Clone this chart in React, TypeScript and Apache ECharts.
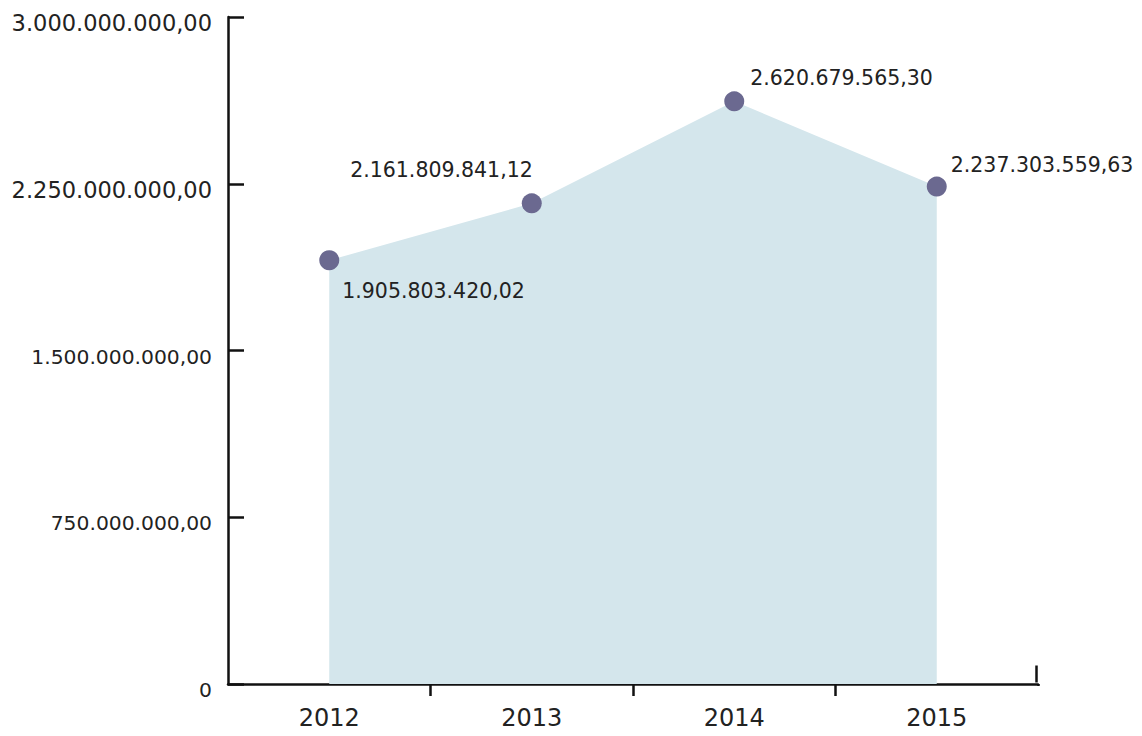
import React, { useEffect, useRef } from "react";
import * as echarts from "echarts";

const categories = ["2012", "2013", "2014", "2015"];
const values = [1905803420.02, 2161809841.12, 2620679565.3, 2237303559.63];
const yTicks = [0, 750000000, 1500000000, 2250000000, 3000000000];

function fmt(v: number): string {
  if (v === 0) return "0";
  const fixed = v.toFixed(2);
  const [intPart, dec] = fixed.split(".");
  const withDots = intPart.replace(/\B(?=(\d{3})+(?!\d))/g, ".");
  return withDots + "," + dec;
}

const labelPlacement = [
  { align: "left", offset: [13, 31] },
  { align: "right", offset: [1, -33] },
  { align: "left", offset: [16, -23] },
  { align: "left", offset: [14, -22] },
];

export default function App() {
  const ref = useRef<HTMLDivElement>(null);
  useEffect(() => {
    document.body.style.margin = "0";
    const chart = echarts.init(ref.current!, null, { renderer: "svg" });
    const font = "DejaVu Sans";
    chart.setOption({
      animation: false,
      backgroundColor: "#ffffff",
      textStyle: { fontFamily: font },
      grid: { left: 228, right: 104, top: 17, bottom: 52 },
      xAxis: {
        type: "category",
        data: categories,
        boundaryGap: true,
        axisLine: { lineStyle: { color: "#111", width: 2.5 } },
        axisTick: {
          show: true,
          length: 12,
          lineStyle: { color: "#111", width: 2.5 },
          interval: (index: number) => index !== 0,
        },
        axisLabel: { color: "#222", fontSize: 24, margin: 22, fontFamily: font },
        splitLine: { show: false },
      },
      yAxis: {
        type: "value",
        min: yTicks[0],
        max: yTicks[yTicks.length - 1],
        interval: yTicks[1] - yTicks[0],
        axisLine: { show: true, lineStyle: { color: "#111", width: 2.5 } },
        axisTick: { show: true, inside: true, length: 16, lineStyle: { color: "#111", width: 2.5 } },
        axisLabel: {
          color: "#222",
          margin: 16,
          fontFamily: font,
          padding: [12, 0, 0, 0],
          formatter: (v: number) => (v >= 2250000000 ? "{big|" + fmt(v) + "}" : "{small|" + fmt(v) + "}"),
          rich: {
            big: { fontSize: 22.5, color: "#222", fontFamily: font },
            small: { fontSize: 20.3, color: "#222", fontFamily: font },
          },
        },
        splitLine: { show: false },
      },
      graphic: [
        {
          type: "rect",
          right: 100,
          bottom: 37,
          shape: { width: 8, height: 13 },
          style: { fill: "#ffffff" },
          z: 100,
        },
        {
          type: "line",
          right: 103,
          bottom: 51,
          shape: { x1: 0, y1: 0, x2: 0, y2: 17 },
          style: { stroke: "#111", lineWidth: 2.5 },
          z: 101,
        },
      ],
      series: [
        {
          type: "line",
          data: values.map((v, i) => ({
            value: v,
            label: {
              show: true,
              position: "inside",
              align: labelPlacement[i].align,
              verticalAlign: "middle",
              offset: labelPlacement[i].offset,
            },
          })),
          symbol: "circle",
          symbolSize: 20,
          showSymbol: true,
          itemStyle: { color: "#6b6990" },
          lineStyle: { width: 0, color: "#d4e6ec" },
          areaStyle: { color: "#d4e6ec", opacity: 1 },
          label: {
            show: true,
            color: "#222",
            fontSize: 20.5,
            fontFamily: font,
            formatter: (p: any) => fmt(p.value),
          },
          z: 1,
        },
      ],
    });
    return () => chart.dispose();
  }, []);
  return <div ref={ref} style={{ width: 1142, height: 736 }} />;
}
